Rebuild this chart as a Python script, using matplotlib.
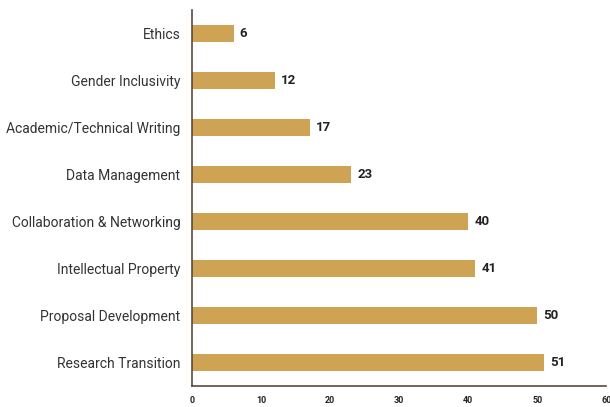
import matplotlib
matplotlib.use("Agg")
from matplotlib import pyplot as plt

plt.rcParams['font.family'] = ['Roboto', 'DejaVu Sans']

categories = ["Research Transition", "Proposal Development", "Intellectual Property",
              "Collaboration & Networking", "Data Management",
              "Academic/Technical Writing", "Gender Inclusivity", "Ethics"]
values = [51, 50, 41, 40, 23, 17, 12, 6]
xticks = [0, 10, 20, 30, 40, 50, 60]

bar_color = '#cfa354'
spine_color = '#5b4a3a'

fig = plt.figure(figsize=(6.1, 4.07), dpi=100)
ax = fig.add_axes([0.315, 0.052, 0.679, 0.923])

pos = range(len(categories))
ax.barh(pos, values, height=0.36, color=bar_color, zorder=2)
for p, v in zip(pos, values):
    ax.text(v + 0.9, p, str(v), va='center', ha='left', fontsize=9.5,
            fontweight='bold', color='#222222')

ax.set_yticks(list(pos))
ax.set_yticklabels(categories, fontsize=10, color='#333333')
ax.set_xticks(xticks)
ax.set_xticklabels([str(t) for t in xticks], fontsize=6.5, fontweight='bold',
                   color='#222222')
ax.set_xlim(0, 60)
ax.set_ylim(-0.5, 7.5)
ax.tick_params(axis='both', length=0)
ax.tick_params(axis='x', pad=7)
ax.tick_params(axis='y', pad=8.5)

for s in ['top', 'right']:
    ax.spines[s].set_visible(False)
for s in ['left', 'bottom']:
    ax.spines[s].set_color(spine_color)
    ax.spines[s].set_linewidth(1.2)

fig.savefig('out.png', dpi=100)
